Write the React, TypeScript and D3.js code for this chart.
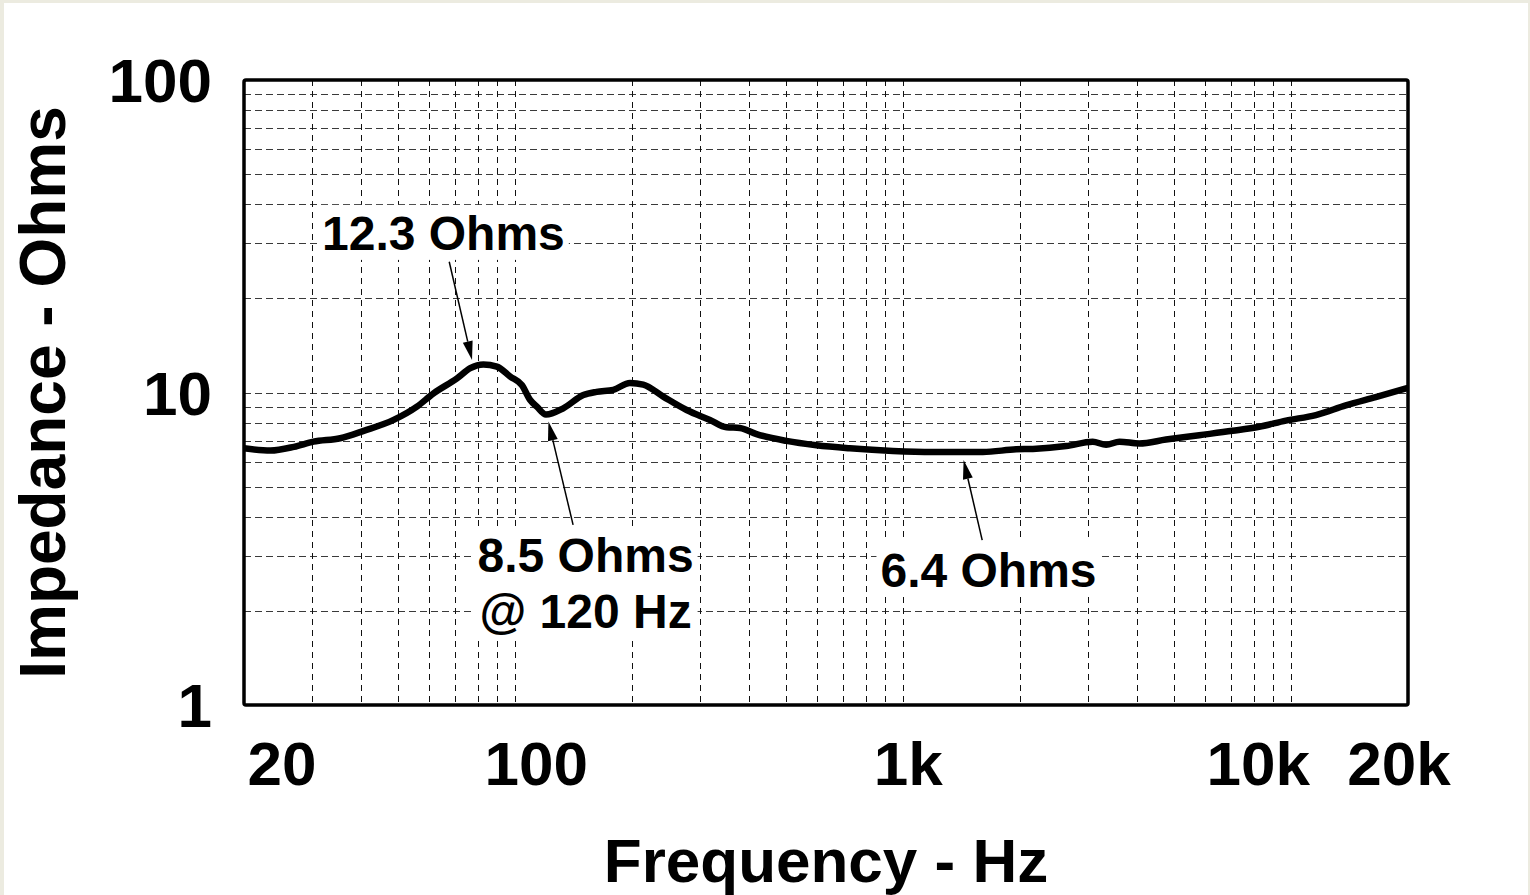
import { useEffect, useRef } from "react";
import * as d3 from "d3";

const freqHz = [
  20, 23.4, 26.9, 30.2, 35.4, 40.7, 48.6, 55.8, 61.6, 70.8, 76.6, 82.8, 89.7, 97.1, 104, 109.3, 113.7,
  120, 133, 149.8, 162, 179, 197.6, 213.8, 240.8, 276.6, 317.6, 350.6, 379.3, 418.8, 500, 597.8, 728,
  941, 1193, 1605, 1955, 2158, 2630, 3079, 3334, 3608, 4061, 4757, 5794, 7058, 8270, 9690, 11576,
  13826, 16512, 20000,
];
const impedanceOhms = [
  6.63, 6.52, 6.7, 6.96, 7.14, 7.54, 8.17, 9.01, 9.94, 11.1, 11.96, 12.3, 12.1, 11.25, 10.57, 9.46, 9.01,
  8.5, 8.9, 9.81, 10.05, 10.2, 10.73, 10.6, 9.7, 8.79, 8.17, 7.74, 7.7, 7.36, 7.0, 6.78, 6.63,
  6.5, 6.45, 6.45, 6.58, 6.6, 6.74, 6.96, 6.8, 6.96, 6.87, 7.07, 7.3, 7.54, 7.77, 8.13, 8.47,
  9.09, 9.67, 10.35,
];

const xTickValues = [20, 100, 1000, 10000, 20000];
const xTickLabels = ["20", "100", "1k", "10k", "20k"];
const yTickValues = [1, 10, 100];
const yTickLabels = ["1", "10", "100"];

// annotations: text lines, text anchor point, arrow tail and tip (Hz, Ohms)
const noteLines = [["12.3 Ohms"], ["8.5 Ohms", "@ 120 Hz"], ["6.4 Ohms"]];
const noteAt = [[65.3, 28.6], [151.8, 2.67], [1659, 2.39]];
const arrowFrom = [[67.6, 26.2], [141, 3.77], [1598, 3.37]];
const arrowTo = [[77.4, 12.7], [121.8, 8.07], [1431, 6.08]];

const W = 1530;
const H = 895;
const FONT = "'Liberation Sans', Arial, sans-serif";

export default function App() {
  const ref = useRef<SVGSVGElement | null>(null);

  useEffect(() => {
    if (!ref.current) return;
    const svg = d3.select(ref.current);
    svg.selectAll("*").remove();

    const left = 244;
    const right = 1408;
    const top = 80;
    const bottom = 705;

    const x = d3.scaleLog().domain([20, 20000]).range([left, right]);
    const y = d3.scaleLog().domain([1, 100]).range([bottom, top]);

    // beige frame + white page
    svg.append("rect").attr("width", W).attr("height", H).attr("fill", "#ecebe0");
    svg.append("rect").attr("x", 4).attr("y", 3).attr("width", W - 6).attr("height", H - 3).attr("fill", "#fff");

    // grid
    const vLines: number[] = [];
    for (let d = 10; d <= 10000; d *= 10) {
      for (let m = 1; m <= 9; m++) {
        const f = d * m;
        if (f > 20 && f <= 10000) vLines.push(f);
      }
    }
    const hLines: number[] = [];
    for (let d = 1; d <= 10; d *= 10) {
      for (let m = 2; m <= 10; m++) {
        const v = d * m;
        if (v < 100) hLines.push(v);
      }
    }

    const grid = svg.append("g");
    grid
      .selectAll("line.h")
      .data(hLines)
      .join("line")
      .attr("class", "h")
      .attr("x1", left)
      .attr("x2", right)
      .attr("y1", (d) => Math.round(y(d)) + 0.5)
      .attr("y2", (d) => Math.round(y(d)) + 0.5)
      .attr("stroke", "#3a3a3a")
      .attr("stroke-width", 1)
      .attr("stroke-dasharray", "7,4");
    grid
      .selectAll("line.v")
      .data(vLines)
      .join("line")
      .attr("class", "v")
      .attr("x1", (d) => Math.round(x(d)) + 0.5)
      .attr("x2", (d) => Math.round(x(d)) + 0.5)
      .attr("y1", top)
      .attr("y2", bottom)
      .attr("stroke", "#111")
      .attr("stroke-width", 1)
      .attr("stroke-dasharray", "6,5");

    // curve
    const pts = freqHz.map((f, i) => [f, impedanceOhms[i]] as [number, number]);
    const line = d3
      .line<[number, number]>()
      .x((d) => x(d[0]))
      .y((d) => y(d[1]))
      .curve(d3.curveMonotoneX);
    svg
      .append("path")
      .attr("d", line(pts))
      .attr("fill", "none")
      .attr("stroke", "#000")
      .attr("stroke-width", 6.5)
      .attr("stroke-linejoin", "round");

    // frame
    svg
      .append("rect")
      .attr("x", left)
      .attr("y", top)
      .attr("width", right - left)
      .attr("height", bottom - top)
      .attr("fill", "none")
      .attr("stroke", "#000")
      .attr("stroke-width", 3.5)
      .attr("rx", 2);

    // annotations with white boxes behind the text
    const notes = svg.append("g");
    noteLines.forEach((lines, i) => {
      const g = notes.append("g");
      const box = g.append("rect").attr("fill", "#fff");
      const t = g
        .append("text")
        .attr("x", x(noteAt[i][0]))
        .attr("y", y(noteAt[i][1]))
        .attr("text-anchor", "middle")
        .attr("font-family", FONT)
        .attr("font-weight", "bold")
        .attr("font-size", 48)
        .attr("fill", "#000");
      lines.forEach((s, j) => {
        t.append("tspan")
          .attr("x", x(noteAt[i][0]))
          .attr("dy", j === 0 ? 0 : 56)
          .text(s);
      });
      const bb = (t.node() as SVGTextElement).getBBox();
      box
        .attr("x", bb.x - 4)
        .attr("y", bb.y - 2)
        .attr("width", bb.width + 8)
        .attr("height", bb.height + 2);

      const x0 = x(arrowFrom[i][0]);
      const y0 = y(arrowFrom[i][1]);
      const x1 = x(arrowTo[i][0]);
      const y1 = y(arrowTo[i][1]);
      const len = Math.hypot(x1 - x0, y1 - y0);
      const ux = (x1 - x0) / len;
      const uy = (y1 - y0) / len;
      const hl = 19;
      const hw = 5;
      const bx = x1 - ux * hl;
      const by = y1 - uy * hl;
      notes
        .append("line")
        .attr("x1", x0)
        .attr("y1", y0)
        .attr("x2", bx)
        .attr("y2", by)
        .attr("stroke", "#000")
        .attr("stroke-width", 1.5);
      notes
        .append("path")
        .attr(
          "d",
          `M${x1},${y1}L${bx - uy * hw},${by + ux * hw}L${bx + uy * hw},${by - ux * hw}Z`
        )
        .attr("fill", "#000");
    });

    // tick labels
    const xOffsets = [38, 21, 5, -33, -9];
    svg
      .append("g")
      .selectAll("text")
      .data(xTickValues)
      .join("text")
      .attr("x", (d, i) => x(d) + xOffsets[i])
      .attr("y", 785)
      .attr("text-anchor", "middle")
      .attr("font-family", FONT)
      .attr("font-weight", "bold")
      .attr("font-size", 62)
      .text((d, i) => xTickLabels[i]);

    svg
      .append("g")
      .selectAll("text")
      .data(yTickValues)
      .join("text")
      .attr("x", 212)
      .attr("y", (d) => y(d) + 22)
      .attr("text-anchor", "end")
      .attr("font-family", FONT)
      .attr("font-weight", "bold")
      .attr("font-size", 62)
      .text((d, i) => yTickLabels[i]);

    // axis titles
    svg
      .append("text")
      .attr("x", (left + right) / 2)
      .attr("y", 882)
      .attr("text-anchor", "middle")
      .attr("font-family", FONT)
      .attr("font-weight", "bold")
      .attr("font-size", 62)
      .text("Frequency - Hz");

    svg
      .append("text")
      .attr("transform", `translate(65,${(top + bottom) / 2}) rotate(-90)`)
      .attr("text-anchor", "middle")
      .attr("font-family", FONT)
      .attr("font-weight", "bold")
      .attr("font-size", 64)
      .text("Impedance - Ohms");
  }, []);

  return (
    <div style={{ position: "fixed", left: 0, top: 0 }}>
      <svg ref={ref} width={W} height={H} style={{ display: "block" }} />
    </div>
  );
}
